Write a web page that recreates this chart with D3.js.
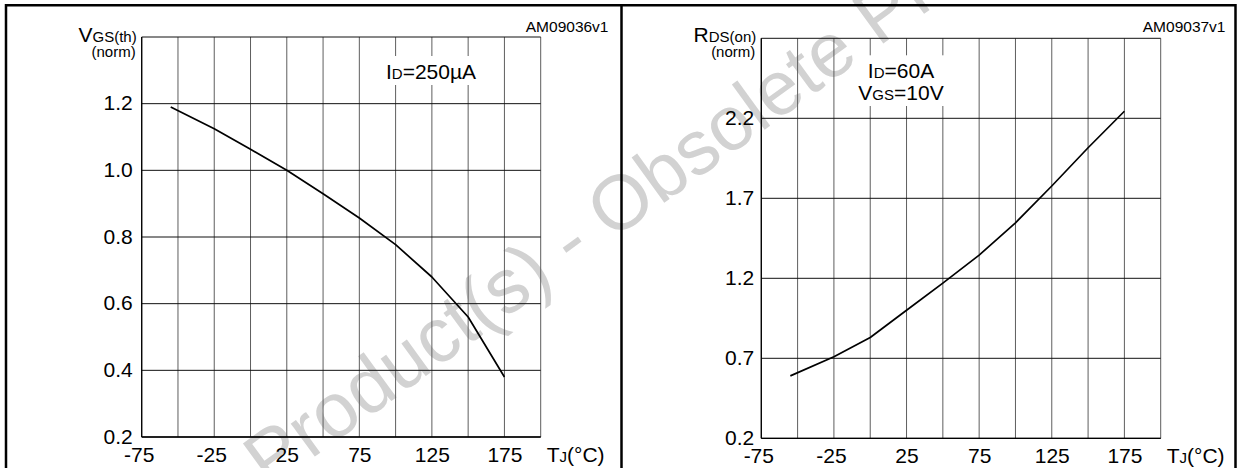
<!DOCTYPE html>
<html><head><meta charset="utf-8">
<script src="https://cdn.jsdelivr.net/npm/d3@7"></script>
<style>
html,body{margin:0;padding:0;background:#fff;}
svg{display:block;font-family:"Liberation Sans",Arial,Helvetica,sans-serif;}
</style>
</head><body>
<svg id="c" width="1239" height="468"></svg>
<script>
// ---- data ----
const temps = [-55, -25, 0, 25, 50, 75, 100, 125, 150, 175];
const vgsthNorm = [1.19, 1.125, 1.063, 1.0, 0.93, 0.857, 0.777, 0.68, 0.56, 0.38];
const rdsonNorm = [0.59, 0.71, 0.83, 1.0, 1.17, 1.345, 1.547, 1.777, 2.016, 2.244];
const xGridValues = [-75, -50, -25, 0, 25, 50, 75, 100, 125, 150, 175, 200];
const xTickLabels = [-75, -25, 25, 75, 125, 175];
const leftYGrid = [0.2, 0.4, 0.6, 0.8, 1.0, 1.2, 1.4];
const leftYTicks = [0.2, 0.4, 0.6, 0.8, 1.0, 1.2];
const rightYGrid = [0.2, 0.7, 1.2, 1.7, 2.2, 2.7];
const rightYTicks = [0.2, 0.7, 1.2, 1.7, 2.2];
const watermarkText = "Product(s) - Obsolete Product(s)";

const svg = d3.select("#c");

// watermark (drawn first, under the chart)
svg.append("text").text(watermarkText)
  .attr("transform", "translate(269,490) rotate(-36)")
  .attr("font-size", 77).attr("fill", "#d2d2d2");

const panels = [
  { left: 141.7, right: 540.7, top: 37, bottom: 437, yDomain: [0.2, 1.4],
    yGrid: leftYGrid, yTicks: leftYTicks, values: vgsthNorm, yPad: 9,
    title: [["V", 21], ["GS(th)", 15]], code: "AM09036v1", codeX: 608.5,
    note: [[["I", 21], ["D", 15], ["=250\u00b5A", 21]]], noteX: 431, noteY: 79 },
  { left: 761.3, right: 1160.7, top: 38.3, bottom: 438.3, yDomain: [0.2, 2.7],
    yGrid: rightYGrid, yTicks: rightYTicks, values: rdsonNorm, yPad: 7,
    title: [["R", 21], ["DS(on)", 15]], code: "AM09037v1", codeX: 1225.5,
    note: [[["I", 21], ["D", 15], ["=60A", 21]], [["V", 21], ["GS", 15], ["=10V", 21]]], noteX: 901, noteY: 78.3 }
];

function richText(g, parts, x, y, anchor) {
  const t = g.append("text").attr("x", x).attr("y", y).attr("text-anchor", anchor).attr("fill", "#000");
  parts.forEach(p => t.append("tspan").attr("font-size", p[1]).text(p[0]));
  return t;
}

panels.forEach(p => {
  const x = d3.scaleLinear().domain([-75, 200]).range([p.left, p.right]);
  const y = d3.scaleLinear().domain(p.yDomain).range([p.bottom, p.top]);
  const g = svg.append("g");

  // vertical grid
  g.selectAll(".vg").data(xGridValues).join("line")
    .attr("x1", d => x(d)).attr("x2", d => x(d))
    .attr("y1", p.top).attr("y2", p.bottom)
    .attr("stroke", "#5e5e5e").attr("stroke-width", 1);
  // horizontal grid
  g.selectAll(".hg").data(p.yGrid).join("line")
    .attr("x1", p.left).attr("x2", p.right)
    .attr("y1", d => y(d)).attr("y2", d => y(d))
    .attr("stroke", "#111").attr("stroke-width", 1);
  // frame
  g.append("line").attr("x1", p.left).attr("x2", p.left).attr("y1", p.top).attr("y2", p.bottom).attr("stroke", "#000").attr("stroke-width", 1.3);
  g.append("line").attr("x1", p.left).attr("x2", p.right).attr("y1", p.bottom).attr("y2", p.bottom).attr("stroke", "#000").attr("stroke-width", 1.3);

  // annotation
  const ng = g.append("g");
  p.note.forEach((parts, i) => richText(ng, parts, p.noteX, p.noteY + i * 21.7, "middle"));
  const bb = ng.node().getBBox();
  ng.insert("rect", "text").attr("x", bb.x - 4).attr("y", bb.y - 4).attr("width", bb.width + 8).attr("height", bb.height + 6).attr("fill", "#fff");

  // axes labels
  const yAxis = d3.axisLeft(y).tickValues(p.yTicks).tickSize(0).tickPadding(p.yPad).tickFormat(d3.format(".1f"));
  const ya = g.append("g").attr("transform", `translate(${p.left},0)`).call(yAxis);
  ya.select(".domain").remove();
  ya.selectAll("text").attr("font-size", 21).attr("font-family", null).attr("fill", "#000").attr("dy", "0.3em");

  const xAxis = d3.axisBottom(x).tickValues(xTickLabels).tickSize(0).tickPadding(10).tickFormat(d => String(d));
  const xa = g.append("g").attr("transform", `translate(0,${p.bottom})`).call(xAxis);
  xa.select(".domain").remove();
  xa.selectAll("text").attr("font-size", 21).attr("font-family", null).attr("fill", "#000")
    .attr("dx", d => d < 0 ? -3 : 0);

  // axis titles
  richText(g, p.title, p.left - 5, 41.7, "end");
  richText(g, [["(norm)", 15]], p.left - 6, 56.5, "end");
  richText(g, [["T", 21], ["J", 15], ["(\u00b0C)", 21]], p.right + 6, p.bottom + 24.7, "start");
  richText(g, [[p.code, 15.5]], p.codeX, 31.7, "end");

  // curve
  const line = d3.line().x((d, i) => x(temps[i])).y(d => y(d));
  g.append("path").datum(p.values).attr("d", line)
    .attr("fill", "none").attr("stroke", "#000").attr("stroke-width", 1.7).attr("stroke-linejoin", "round");
});

// outer borders
const bg = svg.append("g").attr("stroke", "#000").attr("stroke-width", 2.5).attr("fill", "none");
bg.append("path").attr("d", "M6,470 V5.3 H1235.5 V470");
bg.append("line").attr("x1", 621.5).attr("x2", 621.5).attr("y1", 5.3).attr("y2", 470);
</script>
</body></html>
